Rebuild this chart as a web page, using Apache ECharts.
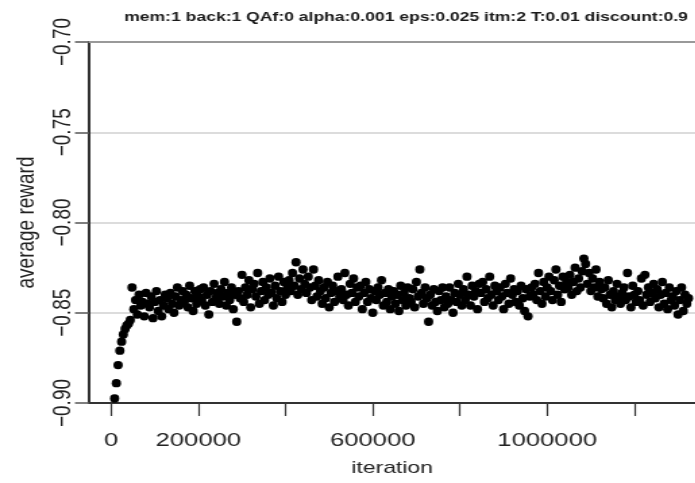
<!DOCTYPE html>
<html><head><meta charset="utf-8">
<script src="https://cdn.jsdelivr.net/npm/echarts@6/dist/echarts.min.js"></script>
<style>
html,body{margin:0;padding:0;background:#fff;overflow:hidden}
#wrap{width:695px;height:483px;overflow:hidden}
#c{width:515px;height:483px;transform:scaleX(1.35);transform-origin:0 0}
</style>
</head><body><div id="wrap"><div id="c"></div></div>
<script>
const titleText = "mem:1 back:1 QAf:0 alpha:0.001 eps:0.025 itm:2 T:0.01 discount:0.9";
const xName = "iteration";
const yName = "average reward";
const iterStart = 8000;
const iterStep = 4000;
const rewards = [
-0.8975,-0.889,-0.879,-0.871,-0.866,-0.862,-0.859,-0.857,-0.856,-0.854,
-0.836,-0.848,-0.843,-0.851,-0.840,-0.846,-0.844,-0.852,-0.839,-0.845,
-0.847,-0.841,-0.853,-0.844,-0.838,-0.849,-0.843,-0.852,-0.846,-0.840,
-0.842,-0.848,-0.839,-0.845,-0.850,-0.841,-0.836,-0.846,-0.843,-0.838,
-0.844,-0.840,-0.847,-0.835,-0.842,-0.849,-0.838,-0.845,-0.841,-0.837,
-0.843,-0.836,-0.846,-0.840,-0.851,-0.838,-0.844,-0.834,-0.842,-0.839,
-0.845,-0.837,-0.841,-0.833,-0.846,-0.839,-0.843,-0.836,-0.848,-0.840,
-0.855,-0.838,-0.842,-0.829,-0.844,-0.836,-0.840,-0.832,-0.847,-0.837,
-0.834,-0.841,-0.828,-0.845,-0.838,-0.833,-0.843,-0.836,-0.840,-0.831,
-0.839,-0.846,-0.835,-0.842,-0.830,-0.838,-0.844,-0.833,-0.840,-0.836,
-0.832,-0.838,-0.828,-0.835,-0.822,-0.840,-0.831,-0.837,-0.826,-0.834,
-0.839,-0.830,-0.836,-0.843,-0.826,-0.835,-0.841,-0.832,-0.838,-0.845,
-0.836,-0.842,-0.833,-0.847,-0.839,-0.835,-0.844,-0.838,-0.830,-0.841,
-0.837,-0.843,-0.828,-0.840,-0.846,-0.834,-0.839,-0.831,-0.844,-0.836,
-0.841,-0.835,-0.848,-0.839,-0.833,-0.844,-0.837,-0.842,-0.850,-0.838,
-0.843,-0.836,-0.840,-0.832,-0.846,-0.839,-0.844,-0.837,-0.848,-0.841,
-0.838,-0.845,-0.840,-0.849,-0.835,-0.843,-0.839,-0.846,-0.836,-0.842,
-0.844,-0.837,-0.847,-0.833,-0.841,-0.826,-0.839,-0.845,-0.836,-0.842,
-0.855,-0.840,-0.846,-0.837,-0.844,-0.849,-0.838,-0.843,-0.836,-0.847,
-0.841,-0.845,-0.836,-0.843,-0.850,-0.839,-0.844,-0.834,-0.840,-0.846,
-0.837,-0.843,-0.830,-0.840,-0.846,-0.835,-0.841,-0.838,-0.848,-0.834,
-0.839,-0.833,-0.844,-0.837,-0.842,-0.830,-0.840,-0.846,-0.835,-0.838,
-0.843,-0.836,-0.841,-0.848,-0.834,-0.839,-0.845,-0.831,-0.840,-0.837,
-0.844,-0.838,-0.846,-0.835,-0.842,-0.849,-0.837,-0.852,-0.841,-0.836,
-0.840,-0.834,-0.843,-0.828,-0.838,-0.845,-0.833,-0.841,-0.836,-0.830,
-0.838,-0.843,-0.832,-0.826,-0.840,-0.835,-0.844,-0.830,-0.837,-0.833,
-0.836,-0.829,-0.840,-0.833,-0.825,-0.838,-0.831,-0.836,-0.827,-0.820,
-0.823,-0.834,-0.828,-0.838,-0.831,-0.836,-0.826,-0.841,-0.833,-0.837,
-0.842,-0.836,-0.845,-0.832,-0.840,-0.847,-0.838,-0.843,-0.834,-0.841,
-0.845,-0.839,-0.836,-0.843,-0.828,-0.841,-0.847,-0.835,-0.840,-0.844,
-0.838,-0.843,-0.831,-0.846,-0.829,-0.840,-0.836,-0.844,-0.839,-0.834,
-0.842,-0.837,-0.847,-0.840,-0.833,-0.845,-0.839,-0.848,-0.836,-0.843,
-0.841,-0.846,-0.838,-0.851,-0.843,-0.836,-0.849,-0.840,-0.845,-0.842
];
const xTicks = [0, 200000, 400000, 600000, 800000, 1000000, 1200000];
const xLabels = [0, 200000, 600000, 1000000];
const yMin = -0.90, yMax = -0.70, yStep = 0.05;
const xMin = -50460, xMax = 1339460;

const points = rewards.map((v, i) => [iterStart + i * iterStep, v]);
const font = '"Liberation Sans", Arial, Helvetica, sans-serif';
const chart = echarts.init(document.getElementById('c'), null, {renderer: 'canvas'});
chart.setOption({
  animation: false,
  backgroundColor: '#fff',
  title: {
    text: titleText, left: 87, top: 6,
    textStyle: {fontFamily: font, fontSize: 13, fontWeight: 'bold', color: '#1a1a1a'}
  },
  grid: {left: 66, right: 0, top: 42, bottom: 80, containLabel: false},
  xAxis: [{
    type: 'value', min: xMin, max: xMax, position: 'bottom',
    name: xName, nameLocation: 'middle', nameGap: 57,
    nameTextStyle: {fontFamily: font, fontSize: 17, color: '#222'},
    axisLine: {show: true, onZero: false, lineStyle: {color: '#333', width: 2}},
    axisTick: {show: true, customValues: xTicks, length: 13, lineStyle: {color: '#333', width: 1.2}},
    axisLabel: {show: true, customValues: xLabels, margin: 28, formatter: v => String(v),
      fontFamily: font, fontSize: 19, color: '#222'},
    splitLine: {show: false}
  }, {
    type: 'value', min: xMin, max: xMax, position: 'top',
    axisLine: {show: true, onZero: false, lineStyle: {color: '#999', width: 2}},
    axisTick: {show: false}, axisLabel: {show: false}, splitLine: {show: false}
  }],
  yAxis: {
    type: 'value', min: yMin, max: yMax, interval: yStep,
    name: yName, nameLocation: 'middle', nameGap: 35, nameRotate: 90,
    nameTextStyle: {fontFamily: font, fontSize: 19, color: '#222'},
    axisLine: {show: true, onZero: false, lineStyle: {color: '#000', width: 1.6}},
    axisTick: {show: true, length: 10.5, lineStyle: {color: '#555', width: 1.5}},
    axisLabel: {show: true, rotate: 90, margin: 10,
      formatter: v => (v < 0 ? '\u2212' : '') + Math.abs(v).toFixed(2),
      fontFamily: font, fontSize: 19, color: '#222'},
    splitLine: {show: true, lineStyle: {color: '#d0d0d0', width: 1.5}}
  },
  series: [{
    type: 'scatter', data: points, symbol: 'circle', symbolSize: [6.9, 8.4],
    itemStyle: {color: '#000', opacity: 1}, clip: true
  }]
});
</script></body></html>
